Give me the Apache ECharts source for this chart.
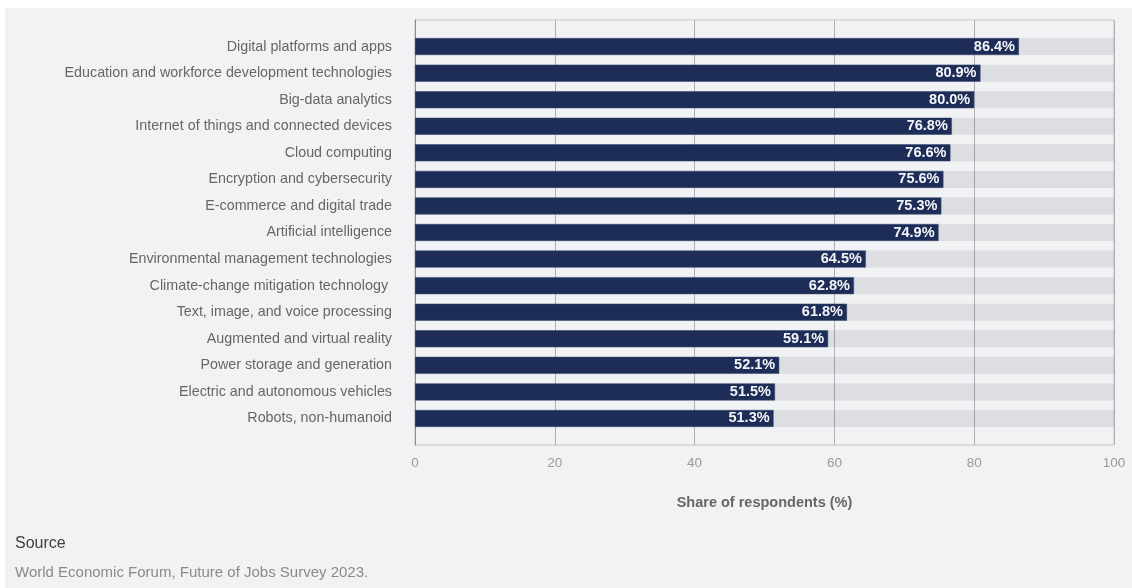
<!DOCTYPE html>
<html>
<head>
<meta charset="utf-8">
<script src="https://cdn.jsdelivr.net/npm/echarts@6/dist/echarts.min.js"></script>
<style>
html,body{margin:0;padding:0;background:#fff;}
#chart{width:1132px;height:588px;}
</style>
</head>
<body>
<div id="chart"></div>
<script>
const categories = [
  'Digital platforms and apps',
  'Education and workforce development technologies',
  'Big-data analytics',
  'Internet of things and connected devices',
  'Cloud computing',
  'Encryption and cybersecurity',
  'E-commerce and digital trade',
  'Artificial intelligence',
  'Environmental management technologies',
  'Climate-change mitigation technology ',
  'Text, image, and voice processing',
  'Augmented and virtual reality',
  'Power storage and generation',
  'Electric and autonomous vehicles',
  'Robots, non-humanoid'
];
const values = [86.4, 80.9, 80.0, 76.8, 76.6, 75.6, 75.3, 74.9, 64.5, 62.8, 61.8, 59.1, 52.1, 51.5, 51.3];
const xTicks = [0, 20, 40, 60, 80, 100];
const axisMax = 100;
const xAxisName = 'Share of respondents (%)';
const sourceTitle = 'Source';
const sourceText = 'World Economic Forum, Future of Jobs Survey 2023.';

// pad category axis with an empty slot at each end
const axisCats = [''].concat(categories, ['']);
const axisVals = [null].concat(values, [null]);
const trackVals = [null].concat(categories.map(() => axisMax), [null]);

const chart = echarts.init(document.getElementById('chart'));
const font = '"Liberation Sans", Arial, Helvetica, sans-serif';
chart.setOption({
  backgroundColor: '#ffffff',
  textStyle: { fontFamily: font },
  graphic: [
    { type: 'rect', left: 5, top: 8, shape: { width: 1127, height: 580 }, style: { fill: '#f1f2f4' }, z: -10, silent: true },
    { type: 'text', left: 15, top: 536, style: { text: sourceTitle, fill: '#3f3f3f', font: '16px ' + font } },
    { type: 'text', left: 15, top: 565, style: { text: sourceText, fill: '#8a8a8a', font: '15px ' + font } }
  ],
  grid: { left: 415, right: 18, top: 20, bottom: 143, show: true, borderColor: '#c4c5c8', borderWidth: 1, backgroundColor: 'transparent' },
  xAxis: {
    type: 'value', min: 0, max: axisMax, interval: 20,
    name: xAxisName, nameLocation: 'middle', nameGap: 50,
    nameTextStyle: { color: '#666', fontWeight: 'bold', fontSize: 14.5, fontFamily: font },
    axisLine: { show: false }, axisTick: { show: false },
    axisLabel: { color: '#999', fontSize: 13.5, margin: 11, formatter: v => xTicks.indexOf(v) >= 0 ? String(v) : '' },
    splitLine: { show: true, lineStyle: { color: '#adafb2', width: 1 } }
  },
  yAxis: {
    type: 'category', data: axisCats, inverse: true, boundaryGap: false,
    axisLine: { show: true, lineStyle: { color: '#8a8b8e' } },
    axisTick: { show: false },
    axisLabel: { color: '#666', fontSize: 14.3, margin: 23 },
    splitLine: { show: false }
  },
  series: [
    {
      type: 'bar', data: trackVals, barWidth: 17, barGap: '-100%', silent: true,
      itemStyle: { color: 'rgba(0,12,40,0.085)' },
      label: { show: false }, z: 1
    },
    {
      type: 'bar', data: axisVals, barWidth: 17, z: 2,
      itemStyle: { color: '#1d2d57', borderColor: '#3a4a72', borderWidth: 0.5 },
      label: {
        show: true, position: 'insideRight', distance: 4,
        color: '#f4f5f8', fontSize: 14.5, fontWeight: 'bold',
        formatter: p => p.value == null ? '' : p.value.toFixed(1) + '%'
      }
    }
  ],
  animation: false
});
</script>
</body>
</html>
